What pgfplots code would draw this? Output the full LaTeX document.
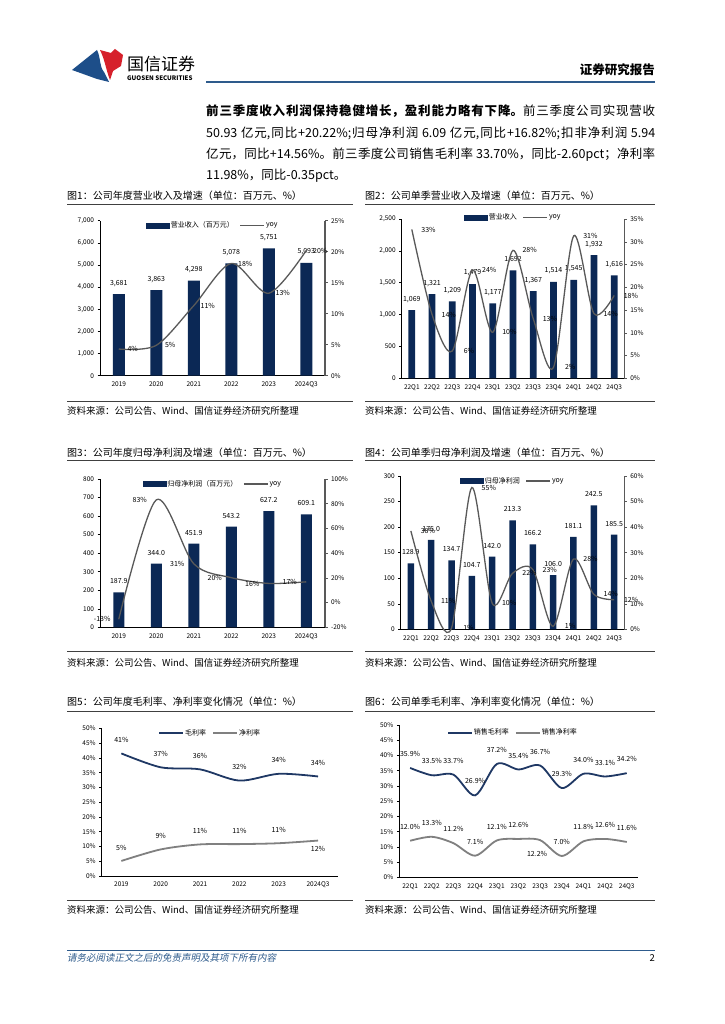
\documentclass[border=0pt]{standalone}
\usepackage{fontspec}
\setmainfont{Noto Sans CJK SC}
\newfontfamily\slantcjk{Noto Sans CJK SC}[FakeSlant=0.2]
\usepackage{pgfplots}
\pgfplotsset{compat=1.18}
\XeTeXlinebreaklocale "zh"
\XeTeXlinebreakskip=0pt plus 1.5pt

\definecolor{navy}{HTML}{0B2855}
\definecolor{yoyline}{HTML}{595959}
\definecolor{gm}{HTML}{1F3864}
\definecolor{nm}{HTML}{808080}
\definecolor{hdrblue}{HTML}{2E5B8C}
\definecolor{logoblue}{HTML}{1D4E89}
\definecolor{logored}{HTML}{D6202B}

\pgfplotsset{
  chart/.style={scale only axis, anchor=south west, clip=false,
    /pgf/number format/assume math mode=true,
    tick label style={font=\fontsize{6.5}{7}\selectfont, text=black},
    major tick length=2.5pt, tick align=outside,
    xtick style={draw=none}, scaled y ticks=false},
  leftax/.style={chart, axis x line*=bottom, axis y line*=left,
    axis line style={black, line width=0.6pt}, ytick style={black, line width=0.5pt}},
  rightax/.style={chart, axis x line=none, axis y line*=right,
    y axis line style={color=black!65, line width=1.1pt},
    ytick style={black!65, line width=0.5pt},
    yticklabel={\pgfmathprintnumber{\tick}\%}},
  barlab/.style={nodes near coords,
    every node near coord/.append style={font=\fontsize{7}{8}\selectfont, text=black, anchor=center, yshift=11pt}},
  barlabd/.style={barlab,
    nodes near coords={\pgfmathprintnumber[fixed,fixed zerofill,precision=1]{\pgfplotspointmeta}}},
  lab/.style 2 args={draw=none, mark=none, forget plot, point meta=explicit symbolic, nodes near coords,
    every node near coord/.append style={font=\fontsize{7}{8}\selectfont, text=black, anchor=center, xshift=#1, yshift=#2}},
  leg/.style={legend style={draw=none, fill=none, at={(0.5,1)}, anchor=north,
    legend columns=-1, font=\fontsize{7}{8}\selectfont, inner sep=0pt,
    nodes={inner sep=1pt}, /tikz/every even column/.append style={column sep=5pt}},
    legend image code/.code={\draw[##1] (0pt,0pt) -- (24pt,0pt);}},
  barleg/.style={legend image code/.code={\fill[navy] (0pt,-2.5pt) rectangle (23pt,2.5pt);}},
  yoy/.style={color=yoyline, line width=1.3pt, smooth, mark=none},
  gml/.style={color=gm, line width=1.8pt, smooth, mark=none},
  nml/.style={color=nm, line width=1.8pt, smooth, mark=none},
}

\begin{document}
\begin{tikzpicture}
\fill[white] (0pt,0pt) rectangle (724pt,-1024pt);

% header
\fill[logoblue] (72pt,-70pt) -- (97pt,-50pt) .. controls (101pt,-58pt) and (99pt,-66pt) .. (104pt,-72pt) -- (109pt,-82pt) -- (97pt,-79pt) -- (86pt,-75pt) -- cycle;
\fill[logored] (100pt,-50pt) -- (111pt,-53pt) -- (115pt,-49pt) -- (123pt,-55pt) -- (121pt,-66pt) -- (113pt,-71pt) -- (110pt,-80pt) .. controls (106pt,-70pt) and (105pt,-60pt) .. cycle;
\node[anchor=west, inner sep=0pt, font=\fontsize{17}{18}\selectfont] at (127pt,-64pt) {国信证券};
\node[anchor=west, inner sep=0pt, font=\bfseries\fontsize{6.2}{7}\selectfont] at (127pt,-78.5pt) {GUOSEN SECURITIES};
\node[anchor=east, inner sep=0pt, font=\bfseries\fontsize{12.5}{14}\selectfont] at (655pt,-70pt) {证券研究报告};
\draw[hdrblue, line width=2pt] (206pt,-82pt) -- (655pt,-82pt);

\node[anchor=base west, inner sep=0pt] at (206pt,-116pt) {\parbox[t]{449pt}{\fontsize{12.5}{21.3}\selectfont
{\bfseries 前三季度收入利润保持稳健增长，盈利能力略有下降。}前三季度公司实现营收\linebreak
50.93 亿元,同比+20.22\%;归母净利润 6.09 亿元,同比+16.82\%;扣非净利润 5.94\linebreak
亿元，同比+14.56\%。前三季度公司销售毛利率 33.70\%，同比-2.60pct；净利率\linebreak
11.98\%，同比-0.35pct。}};

% titles, rules, sources
\begin{scope}[every node/.style={anchor=west, inner sep=0pt, font=\fontsize{10}{12}\selectfont}]
\node at (67pt,-196pt) {图1：公司年度营业收入及增速（单位：百万元、\%）};
\node at (365pt,-196pt) {图2：公司单季营业收入及增速（单位：百万元、\%）};
\node at (67pt,-452.7pt) {图3：公司年度归母净利润及增速（单位：百万元、\%）};
\node at (365pt,-452.7pt) {图4：公司单季归母净利润及增速（单位：百万元、\%）};
\node at (67pt,-701.7pt) {图5：公司年度毛利率、净利率变化情况（单位：\%）};
\node at (365pt,-701.7pt) {图6：公司单季毛利率、净利率变化情况（单位：\%）};
\end{scope}
\begin{scope}[every node/.style={anchor=west, inner sep=0pt, font=\fontsize{9.5}{11}\selectfont}]
\foreach \yy in {411,663,910} {
  \node at (67pt,-\yy pt) {资料来源：公司公告、Wind、国信证券经济研究所整理};
  \node at (365pt,-\yy pt) {资料来源：公司公告、Wind、国信证券经济研究所整理};
}
\end{scope}
\foreach \yy in {204,401.7,460,651.7,711.7,900} {
  \draw[black!75, line width=0.9pt] (67pt,-\yy pt) -- (353pt,-\yy pt);
  \draw[black!75, line width=0.9pt] (365pt,-\yy pt) -- (655pt,-\yy pt);
}

% footer
\draw[hdrblue, line width=0.8pt] (67pt,-950pt) -- (655pt,-950pt);
\node[anchor=west, inner sep=0pt, text=hdrblue, font=\slantcjk\fontsize{9.5}{11}\selectfont] at (67pt,-958pt) {请务必阅读正文之后的免责声明及其项下所有内容};
\node[anchor=east, inner sep=0pt, font=\fontsize{9.5}{11}\selectfont] at (655pt,-958pt) {2};

% ---------- chart 1 ----------
\begin{axis}[leftax, at={(100pt,-375.7pt)}, width=225pt, height=155pt,
  xmin=-0.5, xmax=5.5, ymin=0, ymax=7000, ytick={0,1000,...,7000},
  xtick={0,...,5}, xticklabels={2019,2020,2021,2022,2023,2024Q3},
  ybar, bar width=12pt]
\addplot[fill=navy, draw=none, barlab] coordinates {(0,3681) (1,3863) (2,4298) (3,5078) (4,5751) (5,5093)};
\end{axis}
\begin{axis}[rightax, leg, at={(100pt,-375.7pt)}, width=225pt, height=155pt,
  xmin=-0.5, xmax=5.5, ymin=0, ymax=25, ytick={0,5,...,25}]
\addlegendimage{barleg}
\addlegendentry{营业收入（百万元）}
\addplot[yoy] coordinates {(0,4.3) (1,4.9) (2,11.3) (3,18.1) (4,13.3) (5,20.2)};
\addlegendentry{yoy}
\addplot[lab={14pt}{0pt}] coordinates {(0,4.3)[4\%] (1,4.9)[5\%] (2,11.3)[11\%] (3,18.1)[18\%] (4,13.3)[13\%] (5,20.2)[20\%]};
\end{axis}

% ---------- chart 2 ----------
\begin{axis}[leftax, at={(401.7pt,-378.3pt)}, width=222.6pt, height=159.3pt,
  xmin=-0.5, xmax=10.5, ymin=0, ymax=2500, ytick={0,500,...,2500},
  xtick={0,...,10}, xticklabels={22Q1,22Q2,22Q3,22Q4,23Q1,23Q2,23Q3,23Q4,24Q1,24Q2,24Q3},
  ybar, bar width=6.7pt]
\addplot[fill=navy, draw=none, barlab] coordinates {(0,1069) (1,1321) (2,1209) (3,1479) (4,1177) (5,1692) (6,1367) (7,1514) (8,1545) (9,1932) (10,1616)};
\end{axis}
\begin{axis}[rightax, leg, legend style={yshift=6.5pt}, at={(401.7pt,-378.3pt)}, width=222.6pt, height=159.3pt,
  xmin=-0.5, xmax=10.5, ymin=0, ymax=35, ytick={0,5,...,35}]
\addlegendimage{barleg}
\addlegendentry{营业收入}
\addplot[yoy] coordinates {(0,32.7) (1,14) (2,6) (3,23.8) (4,10.1) (5,28.1) (6,13.1) (7,2.4) (8,31.3) (9,14.2) (10,18.2)};
\addlegendentry{yoy}
\addplot[lab={16.7pt}{0pt}] coordinates {(0,32.7)[33\%] (1,14)[14\%] (2,6)[6\%] (3,23.8)[24\%] (4,10.1)[10\%] (5,28.1)[28\%] (6,13.1)[13\%] (7,2.4)[2\%] (8,31.3)[31\%] (9,14.2)[14\%] (10,18.2)[18\%]};
\end{axis}

% ---------- chart 3 ----------
\begin{axis}[leftax, at={(100pt,-627.3pt)}, width=225pt, height=148.3pt,
  xmin=-0.5, xmax=5.5, ymin=0, ymax=800, ytick={0,100,...,800},
  xtick={0,...,5}, xticklabels={2019,2020,2021,2022,2023,2024Q3},
  ybar, bar width=11pt]
\addplot[fill=navy, draw=none, barlabd] coordinates {(0,187.9) (1,344.0) (2,451.9) (3,543.2) (4,627.2) (5,609.1)};
\end{axis}
\begin{axis}[rightax, leg, at={(100pt,-627.3pt)}, width=225pt, height=148.3pt,
  xmin=-0.5, xmax=5.5, ymin=-20, ymax=100, ytick={-20,0,...,100}]
\addlegendimage{barleg}
\addlegendentry{归母净利润（百万元）}
\addplot[yoy] coordinates {(0,-13.5) (1,83.1) (2,31.4) (3,20.2) (4,15.5) (5,16.8)};
\addlegendentry{yoy}
\addplot[lab={-16.5pt}{0pt}] coordinates {(0,-13.5)[-13\%] (1,83.1)[83\%] (2,31.4)[31\%] (3,20.2)[20\%] (4,15.5)[16\%] (5,16.8)[17\%]};
\end{axis}

% ---------- chart 4 ----------
\begin{axis}[leftax, at={(400.7pt,-629.3pt)}, width=223.6pt, height=153.3pt,
  xmin=-0.5, xmax=10.5, ymin=0, ymax=300, ytick={0,50,...,300},
  xtick={0,...,10}, xticklabels={22Q1,22Q2,22Q3,22Q4,23Q1,23Q2,23Q3,23Q4,24Q1,24Q2,24Q3},
  ybar, bar width=6.5pt]
\addplot[fill=navy, draw=none, barlabd] coordinates {(0,128.9) (1,175.0) (2,134.7) (3,104.7) (4,142.0) (5,213.3) (6,166.2) (7,106.0) (8,181.1) (9,242.5) (10,185.5)};
\end{axis}
\begin{axis}[rightax, leg, at={(400.7pt,-629.3pt)}, width=223.6pt, height=153.3pt,
  xmin=-0.5, xmax=10.5, ymin=0, ymax=60, ytick={0,10,...,60}]
\addlegendimage{barleg}
\addlegendentry{归母净利润}
\addplot[yoy] coordinates {(0,38.5) (1,11) (2,0.5) (3,55.5) (4,10.2) (5,21.9) (6,23.4) (7,1.2) (8,27.5) (9,13.7) (10,11.6)};
\addlegendentry{yoy}
\addplot[lab={17pt}{0pt}] coordinates {(0,38.5)[38\%] (1,11)[11\%] (2,0.5)[1\%] (3,55.5)[55\%] (4,10.2)[10\%] (5,21.9)[22\%] (6,23.4)[23\%] (7,1.2)[1\%] (8,27.5)[28\%] (9,13.7)[14\%] (10,11.6)[12\%]};
\end{axis}

% ---------- chart 5 ----------
\begin{axis}[leftax, leg, legend style={xshift=-10pt}, at={(101.7pt,-876pt)}, width=236pt, height=147.7pt,
  xmin=-0.5, xmax=5.5, ymin=0, ymax=50, ytick={0,5,...,50},
  yticklabel={\pgfmathprintnumber{\tick}\%},
  xtick={0,...,5}, xticklabels={2019,2020,2021,2022,2023,2024Q3}]
\addplot[gml] coordinates {(0,41.5) (1,36.8) (2,36.1) (3,32.3) (4,34.6) (5,33.7)};
\addlegendentry{毛利率}
\addplot[nml] coordinates {(0,5.1) (1,9.0) (2,10.7) (3,10.8) (4,11.1) (5,12.0)};
\addlegendentry{净利率}
\addplot[lab={0pt}{13.5pt}] coordinates {(0,41.5)[41\%] (1,36.8)[37\%] (2,36.1)[36\%] (3,32.3)[32\%] (4,34.6)[34\%] (5,33.7)[34\%]};
\addplot[lab={0pt}{13.5pt}] coordinates {(0,5.1)[5\%] (1,9.0)[9\%] (2,10.7)[11\%] (3,10.8)[11\%] (4,11.1)[11\%]};
\addplot[lab={0pt}{-8pt}] coordinates {(5,12.0)[12\%]};
\end{axis}

% ---------- chart 6 ----------
\begin{axis}[leftax, leg, legend style={xshift=-6pt, yshift=-2.7pt}, at={(399.3pt,-877.3pt)}, width=238.3pt, height=152.3pt,
  xmin=-0.5, xmax=10.5, ymin=0, ymax=50, ytick={0,5,...,50},
  yticklabel={\pgfmathprintnumber{\tick}\%},
  xtick={0,...,10}, xticklabels={22Q1,22Q2,22Q3,22Q4,23Q1,23Q2,23Q3,23Q4,24Q1,24Q2,24Q3}]
\addplot[gml] coordinates {(0,35.9) (1,33.5) (2,33.7) (3,26.9) (4,37.2) (5,35.4) (6,36.7) (7,29.3) (8,34.0) (9,33.1) (10,34.2)};
\addlegendentry{销售毛利率}
\addplot[nml] coordinates {(0,12.0) (1,13.3) (2,11.2) (3,7.1) (4,12.1) (5,12.6) (6,12.2) (7,7.0) (8,11.8) (9,12.6) (10,11.6)};
\addlegendentry{销售净利率}
\addplot[lab={0pt}{14pt}] coordinates {(0,35.9)[35.9\%] (1,33.5)[33.5\%] (2,33.7)[33.7\%] (3,26.9)[26.9\%] (4,37.2)[37.2\%] (5,35.4)[35.4\%] (6,36.7)[36.7\%] (7,29.3)[29.3\%] (8,34.0)[34.0\%] (9,33.1)[33.1\%] (10,34.2)[34.2\%]};
\addplot[lab={0pt}{14pt}] coordinates {(0,12.0)[12.0\%] (1,13.3)[13.3\%] (2,11.2)[11.2\%] (3,7.1)[7.1\%] (4,12.1)[12.1\%] (5,12.6)[12.6\%] (7,7.0)[7.0\%] (8,11.8)[11.8\%] (9,12.6)[12.6\%] (10,11.6)[11.6\%]};
\addplot[lab={-3pt}{-14pt}] coordinates {(6,12.2)[12.2\%]};
\end{axis}
\end{tikzpicture}
\end{document}
